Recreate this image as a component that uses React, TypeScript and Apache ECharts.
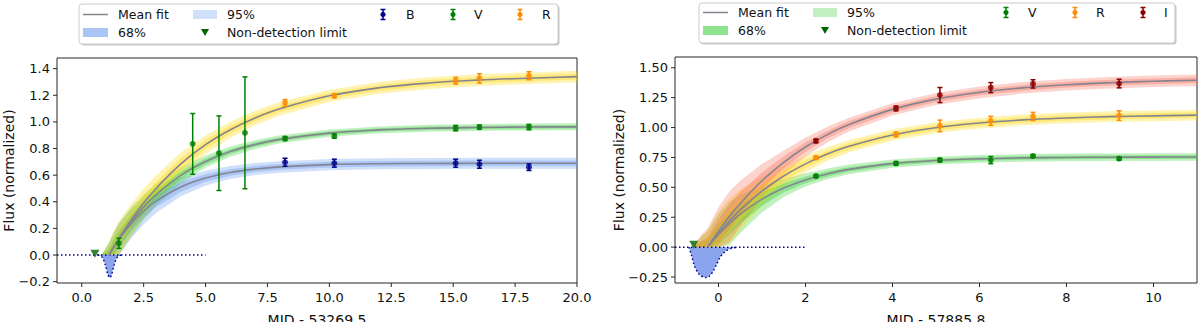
import React, { useEffect, useRef } from "react";
import * as echarts from "echarts";

// ---------------- Left panel: MJD - 53269.5 ----------------
const leftXs = [0.8, 0.9, 1.0, 1.1, 1.3, 1.5, 2, 2.5, 3, 4, 5, 6, 7, 8, 10, 12, 14, 16, 18, 20];
const leftBMean = [null, null, null, 0, 0.061, 0.117, 0.236, 0.331, 0.405, 0.511, 0.578, 0.62, 0.646, 0.662, 0.679, 0.686, 0.688, 0.689, 0.69, 0.69];
const leftVMean = [null, null, null, 0, 0.062, 0.121, 0.25, 0.36, 0.453, 0.598, 0.702, 0.777, 0.83, 0.869, 0.916, 0.94, 0.952, 0.958, 0.962, 0.963];
const leftRMean = [null, null, null, 0, 0.064, 0.126, 0.266, 0.39, 0.5, 0.685, 0.829, 0.941, 1.03, 1.099, 1.196, 1.256, 1.292, 1.314, 1.328, 1.34];
const leftBW95 = [0, 0.03, 0.06, 0.09, 0.11, 0.12, 0.11, 0.1, 0.09, 0.07, 0.055, 0.048, 0.045, 0.043, 0.042, 0.041, 0.041, 0.041, 0.041, 0.041];
const leftBW68 = [0, 0.015, 0.03, 0.045, 0.055, 0.06, 0.055, 0.05, 0.045, 0.035, 0.028, 0.024, 0.023, 0.022, 0.021, 0.021, 0.021, 0.021, 0.021, 0.021];
const leftVW95 = [0, 0.03, 0.06, 0.09, 0.11, 0.12, 0.11, 0.095, 0.08, 0.06, 0.045, 0.038, 0.033, 0.03, 0.027, 0.026, 0.026, 0.026, 0.026, 0.026];
const leftVW68 = [0, 0.015, 0.03, 0.045, 0.055, 0.06, 0.055, 0.048, 0.04, 0.03, 0.023, 0.019, 0.017, 0.015, 0.014, 0.013, 0.013, 0.013, 0.013, 0.013];
const leftRW95 = [0, 0.035, 0.07, 0.1, 0.12, 0.13, 0.12, 0.11, 0.1, 0.085, 0.07, 0.06, 0.055, 0.05, 0.046, 0.044, 0.044, 0.044, 0.044, 0.044];
const leftRW68 = [0, 0.018, 0.035, 0.05, 0.06, 0.065, 0.06, 0.055, 0.05, 0.042, 0.035, 0.03, 0.027, 0.025, 0.023, 0.022, 0.022, 0.022, 0.022, 0.022];

// observed points [x, y, err]
const leftBPoints = [[8.21, 0.697, 0.03], [10.2, 0.69, 0.03], [15.1, 0.69, 0.03], [16.06, 0.682, 0.03], [18.06, 0.66, 0.025]];
const leftVPoints = [[1.5, 0.088, 0.038], [4.48, 0.835, 0.228], [5.54, 0.765, 0.28], [6.59, 0.918, 0.42], [8.21, 0.875, 0.015], [10.2, 0.893, 0.015], [15.1, 0.953, 0.02], [16.06, 0.961, 0.015], [18.06, 0.961, 0.02]];
const leftRPoints = [[8.21, 1.143, 0.025], [10.2, 1.196, 0.015], [15.1, 1.309, 0.025], [16.06, 1.327, 0.035], [18.06, 1.347, 0.03]];
const leftLimit = [[0.53, 0.01]];
const leftDistX = [0.65, 0.75, 0.85, 0.95, 1.05, 1.13, 1.2, 1.3, 1.4, 1.5, 1.6];
const leftDistY = [0, -0.004, -0.023, -0.074, -0.144, -0.17, -0.15, -0.081, -0.026, -0.005, 0];
const leftZeroLine = [[-1, 0], [5, 0]];
const leftXTicks = [0, 2.5, 5, 7.5, 10, 12.5, 15, 17.5, 20];
const leftYTicks = [-0.2, 0, 0.2, 0.4, 0.6, 0.8, 1.0, 1.2, 1.4];

// ---------------- Right panel: MJD - 57885.8 ----------------
const rightXs = [-0.6, -0.5, -0.4, -0.25, 0, 0.25, 0.5, 1, 1.5, 2, 2.5, 3, 4, 5, 6, 7, 8, 9, 10, 11];
const rightVMean = [null, null, null, 0, 0.106, 0.197, 0.276, 0.401, 0.494, 0.562, 0.612, 0.65, 0.698, 0.724, 0.738, 0.746, 0.75, 0.752, 0.753, 0.754];
const rightRMean = [null, null, null, 0, 0.115, 0.219, 0.311, 0.469, 0.595, 0.696, 0.778, 0.843, 0.938, 0.999, 1.038, 1.064, 1.08, 1.091, 1.098, 1.104];
const rightIMean = [null, null, null, 0, 0.134, 0.256, 0.365, 0.555, 0.709, 0.837, 0.941, 1.025, 1.152, 1.238, 1.294, 1.332, 1.358, 1.375, 1.387, 1.396];
const rightVW95 = [0, 0.04, 0.085, 0.13, 0.17, 0.18, 0.16, 0.11, 0.075, 0.055, 0.045, 0.04, 0.034, 0.032, 0.032, 0.032, 0.032, 0.032, 0.032, 0.032];
const rightVW68 = [0, 0.02, 0.042, 0.065, 0.085, 0.09, 0.08, 0.055, 0.038, 0.028, 0.023, 0.02, 0.017, 0.016, 0.016, 0.016, 0.016, 0.016, 0.016, 0.016];
const rightRW95 = [0, 0.045, 0.09, 0.14, 0.18, 0.19, 0.17, 0.12, 0.09, 0.07, 0.058, 0.052, 0.047, 0.045, 0.045, 0.045, 0.045, 0.045, 0.045, 0.045];
const rightRW68 = [0, 0.022, 0.045, 0.07, 0.09, 0.095, 0.085, 0.06, 0.045, 0.035, 0.029, 0.026, 0.024, 0.023, 0.023, 0.023, 0.023, 0.023, 0.023, 0.023];
const rightIW95 = [0, 0.05, 0.1, 0.16, 0.2, 0.21, 0.19, 0.14, 0.1, 0.08, 0.066, 0.058, 0.052, 0.05, 0.049, 0.048, 0.048, 0.048, 0.048, 0.048];
const rightIW68 = [0, 0.025, 0.05, 0.08, 0.1, 0.105, 0.095, 0.07, 0.05, 0.04, 0.033, 0.029, 0.026, 0.025, 0.024, 0.024, 0.024, 0.024, 0.024, 0.024];

const rightVPoints = [[2.24, 0.594, 0.012], [4.08, 0.7, 0.015], [5.09, 0.728, 0.015], [6.26, 0.728, 0.03], [7.23, 0.762, 0.012], [9.21, 0.74, 0.012]];
const rightRPoints = [[2.24, 0.748, 0.012], [4.08, 0.942, 0.02], [5.09, 1.014, 0.048], [6.26, 1.056, 0.038], [7.23, 1.093, 0.034], [9.21, 1.1, 0.04]];
const rightIPoints = [[2.24, 0.888, 0.015], [4.08, 1.16, 0.02], [5.09, 1.272, 0.063], [6.26, 1.334, 0.042], [7.23, 1.365, 0.035], [9.21, 1.368, 0.036]];
const rightLimit = [[-0.57, 0.02]];
const rightDistX = [-0.68, -0.62, -0.55, -0.45, -0.35, -0.27, -0.2, -0.13, -0.05, 0.02, 0.1, 0.18, 0.3, 0.45];
const rightDistY = [0, -0.07, -0.16, -0.225, -0.25, -0.255, -0.24, -0.205, -0.15, -0.095, -0.055, -0.03, -0.01, 0];
const rightZeroLine = [[-1, 0], [2, 0]];
const rightXTicks = [0, 2, 4, 6, 8, 10];
const rightYTicks = [-0.25, 0, 0.25, 0.5, 0.75, 1.0, 1.25, 1.5];

// axis ranges
const leftXRange = [-1, 20];
const leftYRange = [-0.21, 1.48];
const rightXRange = [-1, 11];
const rightYRange = [-0.3, 1.59];

// ---------------- styling ----------------
const FONT = "DejaVu Sans";
const TXT = "#111";
const AX = "#262626";
const MEAN_COLOR = "#858592";
const C = {
  B: "#00008b",
  V: "#008000",
  R: "#ff8c00",
  I: "#8b0000",
  limit: "#006400",
  dist: "#8aa5ee",
  distLine: "#00008b",
};
const BAND = {
  B: "100,149,237",
  V: "50,205,50",
  R: "255,215,0",
  I: "250,110,90",
};

function band(xs: number[], mean: (number | null)[], w: number[], rgb: string, alpha: number, axis: number) {
  return {
    type: "custom",
    xAxisIndex: axis,
    yAxisIndex: axis,
    data: [[xs[0], 0]],
    encode: { x: 0, y: 1 },
    silent: true,
    z: 1,
    renderItem: (params: any, api: any) => {
      if (params.dataIndex !== 0) return null;
      const up: number[][] = [];
      const lo: number[][] = [];
      xs.forEach((x, i) => {
        const m = mean[i] == null ? 0 : (mean[i] as number);
        up.push(api.coord([x, m + w[i]]));
        lo.push(api.coord([x, Math.max(0, m - w[i])]));
      });
      const points = up.concat(lo.reverse());
      return {
        type: "polygon",
        shape: { points },
        style: { fill: `rgba(${rgb},${alpha})`, stroke: null },
      };
    },
  };
}

function meanLine(xs: number[], mean: (number | null)[], axis: number) {
  const data: number[][] = [];
  xs.forEach((x, i) => {
    if (mean[i] != null) data.push([x, mean[i] as number]);
  });
  return {
    type: "line",
    xAxisIndex: axis,
    yAxisIndex: axis,
    data,
    smooth: 0.4,
    showSymbol: false,
    silent: true,
    z: 3,
    lineStyle: { color: MEAN_COLOR, width: 1.6 },
  };
}

function errorBars(points: number[][], color: string, axis: number) {
  return {
    type: "custom",
    xAxisIndex: axis,
    yAxisIndex: axis,
    data: points,
    dimensions: ["x", "y", "e"],
    encode: { x: 0, y: 1 },
    silent: true,
    z: 4,
    renderItem: (params: any, api: any) => {
      const x = api.value(0);
      const y = api.value(1);
      const e = api.value(2);
      const t = api.coord([x, y + e]);
      const b = api.coord([x, y - e]);
      const cw = 2.5;
      const st = { stroke: color, lineWidth: 1.5 };
      return {
        type: "group",
        children: [
          { type: "line", shape: { x1: t[0], y1: t[1], x2: b[0], y2: b[1] }, style: st },
          { type: "line", shape: { x1: t[0] - cw, y1: t[1], x2: t[0] + cw, y2: t[1] }, style: st },
          { type: "line", shape: { x1: b[0] - cw, y1: b[1], x2: b[0] + cw, y2: b[1] }, style: st },
        ],
      };
    },
  };
}

// tick marks drawn through the axis scales (outside the plot frame)
function tickMarks(vals: number[], dir: "x" | "y", edge: number, axis: number) {
  return {
    type: "custom",
    xAxisIndex: axis,
    yAxisIndex: axis,
    data: vals.map((v) => (dir === "x" ? [v, edge] : [edge, v])),
    encode: { x: 0, y: 1 },
    silent: true,
    clip: false,
    z: 6,
    renderItem: (params: any, api: any) => {
      const p = api.coord([api.value(0), api.value(1)]);
      const shape =
        dir === "x"
          ? { x1: p[0], y1: p[1], x2: p[0], y2: p[1] + 4 }
          : { x1: p[0] - 4, y1: p[1], x2: p[0], y2: p[1] };
      return { type: "line", shape, style: { stroke: AX, lineWidth: 1 } };
    },
  };
}

function dots(points: number[][], color: string, axis: number) {
  return {
    type: "scatter",
    xAxisIndex: axis,
    yAxisIndex: axis,
    data: points.map((p) => [p[0], p[1]]),
    symbol: "circle",
    symbolSize: 6,
    silent: true,
    z: 5,
    itemStyle: { color },
  };
}

function limitMarker(points: number[][], axis: number) {
  return {
    type: "scatter",
    xAxisIndex: axis,
    yAxisIndex: axis,
    data: points,
    symbol: "triangle",
    symbolRotate: 180,
    symbolSize: [9, 8],
    silent: true,
    z: 5,
    itemStyle: { color: C.limit },
  };
}

function dist(xs: number[], ys: number[], axis: number) {
  return {
    type: "line",
    xAxisIndex: axis,
    yAxisIndex: axis,
    data: xs.map((x, i) => [x, ys[i]]),
    smooth: 0.3,
    showSymbol: false,
    silent: true,
    z: 2,
    lineStyle: { color: C.distLine, width: 1.5, type: [1.5, 2.5] },
    areaStyle: { color: C.dist, opacity: 1, origin: "auto" },
  };
}

function zeroLine(data: number[][], axis: number) {
  return {
    type: "line",
    xAxisIndex: axis,
    yAxisIndex: axis,
    data,
    showSymbol: false,
    silent: true,
    z: 2,
    lineStyle: { color: C.distLine, width: 1.5, type: [1.5, 2.5] },
  };
}

function fmt(d: number) {
  return (v: number) => v.toFixed(d).replace("-", "\u2212");
}

function xAxis(grid: number, range: number[], ticks: number[], dec: number, name: string) {
  return {
    type: "value",
    gridIndex: grid,
    min: range[0],
    max: range[1],
    name,
    nameLocation: "middle",
    nameGap: 29,
    nameMoveOverlap: false,
    nameTextStyle: { fontSize: 14, color: TXT, fontFamily: FONT, lineHeight: 15 },
    axisLine: { show: false },
    axisTick: { show: false },
    axisLabel: { customValues: ticks, formatter: fmt(dec), fontSize: 13, color: TXT, fontFamily: FONT, margin: 8 },
    splitLine: { show: false },
  };
}

function yAxis(grid: number, range: number[], ticks: number[], dec: number, gap: number) {
  return {
    type: "value",
    gridIndex: grid,
    min: range[0],
    max: range[1],
    name: "Flux (normalized)",
    nameLocation: "middle",
    nameGap: gap,
    nameMoveOverlap: false,
    nameTextStyle: { fontSize: 14, color: TXT, fontFamily: FONT },
    axisLine: { show: false },
    axisTick: { show: false },
    axisLabel: { customValues: ticks, formatter: fmt(dec), fontSize: 13, color: TXT, fontFamily: FONT, margin: 7 },
    splitLine: { show: false },
  };
}

// ---------------- legend graphics ----------------
function ebIcon(x: number, y: number, color: string) {
  const st = { stroke: color, lineWidth: 1.5 };
  return [
    { type: "line", shape: { x1: x, y1: y - 5, x2: x, y2: y + 5 }, style: st },
    { type: "line", shape: { x1: x - 2.5, y1: y - 5, x2: x + 2.5, y2: y - 5 }, style: st },
    { type: "line", shape: { x1: x - 2.5, y1: y + 5, x2: x + 2.5, y2: y + 5 }, style: st },
    { type: "circle", shape: { cx: x, cy: y, r: 2.6 }, style: { fill: color } },
  ];
}

function txt(x: number, y: number, text: string) {
  return {
    type: "text",
    x,
    y,
    style: { text, fontSize: 12.5, fontFamily: FONT, fill: TXT, align: "left", verticalAlign: "middle" },
  };
}

function legend(
  bx: number,
  by: number,
  bw: number,
  rgb: string,
  filters: { name: string; color: string; ix: number; tx: number }[],
  r1: number,
  r2: number
) {
  const ox = bx - 79;
  const els: any[] = [
    { type: "rect", shape: { x: bx + 1.5, y: by + 1.5, width: bw, height: 40, r: 3 }, style: { fill: "rgba(0,0,0,0.22)" } },
    { type: "rect", shape: { x: bx, y: by, width: bw, height: 40, r: 3 }, style: { fill: "#fff", stroke: "#cccccc", lineWidth: 1 } },
    { type: "line", shape: { x1: 83 + ox, y1: r1, x2: 108 + ox, y2: r1 }, style: { stroke: MEAN_COLOR, lineWidth: 1.5 } },
    txt(118 + ox, r1, "Mean fit"),
    { type: "rect", shape: { x: 193 + ox, y: r1 - 4.5, width: 24, height: 9 }, style: { fill: `rgba(${rgb},0.3)` } },
    txt(227 + ox, r1, "95%"),
    { type: "rect", shape: { x: 83 + ox, y: r2 - 4.5, width: 25, height: 9 }, style: { fill: `rgba(${rgb},0.55)` } },
    txt(118 + ox, r2, "68%"),
    { type: "polygon", shape: { points: [[201 + ox, r2 - 3.5], [209 + ox, r2 - 3.5], [205 + ox, r2 + 3.5]] }, style: { fill: C.limit } },
    txt(227 + ox, r2, "Non-detection limit"),
  ];
  filters.forEach((f) => {
    els.push(...ebIcon(f.ix, r1, f.color));
    els.push(txt(f.tx, r1, f.name));
  });
  return els;
}

export default function App() {
  const ref = useRef<HTMLDivElement>(null);
  useEffect(() => {
    if (!ref.current) return;
    const chart = echarts.init(ref.current, null, { renderer: "svg" });
    const option: any = {
      animation: false,
      backgroundColor: "#fff",
      grid: [
        { left: 57, right: 623, top: 58, bottom: 39, show: true, borderColor: AX, borderWidth: 1, backgroundColor: "transparent", containLabel: false, outerBoundsMode: "none" },
        { left: 675, right: 3, top: 57, bottom: 39, show: true, borderColor: AX, borderWidth: 1, backgroundColor: "transparent", containLabel: false, outerBoundsMode: "none" },
      ],
      xAxis: [
        xAxis(0, leftXRange, leftXTicks, 1, "MJD - 53269.5"),
        xAxis(1, rightXRange, rightXTicks, 0, "MJD - 57885.8"),
      ],
      yAxis: [yAxis(0, leftYRange, leftYTicks, 1, 41), yAxis(1, rightYRange, rightYTicks, 2, 49)],
      series: [
        // left bands
        band(leftXs, leftBMean, leftBW95, BAND.B, 0.3, 0),
        band(leftXs, leftVMean, leftVW95, BAND.V, 0.3, 0),
        band(leftXs, leftRMean, leftRW95, BAND.R, 0.3, 0),
        band(leftXs, leftBMean, leftBW68, BAND.B, 0.35, 0),
        band(leftXs, leftVMean, leftVW68, BAND.V, 0.35, 0),
        band(leftXs, leftRMean, leftRW68, BAND.R, 0.35, 0),
        dist(leftDistX, leftDistY, 0),
        zeroLine(leftZeroLine, 0),
        meanLine(leftXs, leftBMean, 0),
        meanLine(leftXs, leftVMean, 0),
        meanLine(leftXs, leftRMean, 0),
        errorBars(leftBPoints, C.B, 0),
        errorBars(leftVPoints, C.V, 0),
        errorBars(leftRPoints, C.R, 0),
        dots(leftBPoints, C.B, 0),
        dots(leftVPoints, C.V, 0),
        dots(leftRPoints, C.R, 0),
        limitMarker(leftLimit, 0),
        tickMarks(leftXTicks, "x", leftYRange[0], 0),
        tickMarks(leftYTicks, "y", leftXRange[0], 0),
        // right bands
        band(rightXs, rightVMean, rightVW95, BAND.V, 0.3, 1),
        band(rightXs, rightRMean, rightRW95, BAND.R, 0.3, 1),
        band(rightXs, rightIMean, rightIW95, BAND.I, 0.3, 1),
        band(rightXs, rightVMean, rightVW68, BAND.V, 0.35, 1),
        band(rightXs, rightRMean, rightRW68, BAND.R, 0.35, 1),
        band(rightXs, rightIMean, rightIW68, BAND.I, 0.35, 1),
        dist(rightDistX, rightDistY, 1),
        zeroLine(rightZeroLine, 1),
        meanLine(rightXs, rightVMean, 1),
        meanLine(rightXs, rightRMean, 1),
        meanLine(rightXs, rightIMean, 1),
        errorBars(rightVPoints, C.V, 1),
        errorBars(rightRPoints, C.R, 1),
        errorBars(rightIPoints, C.I, 1),
        dots(rightVPoints, C.V, 1),
        dots(rightRPoints, C.R, 1),
        dots(rightIPoints, C.I, 1),
        limitMarker(rightLimit, 1),
        tickMarks(rightXTicks, "x", rightYRange[0], 1),
        tickMarks(rightYTicks, "y", rightXRange[0], 1),
      ],
      graphic: [
        {
          type: "group",
          silent: true,
          children: legend(
            79,
            4,
            479,
            BAND.B,
            [
              { name: "B", color: C.B, ix: 383, tx: 406 },
              { name: "V", color: C.V, ix: 453, tx: 474 },
              { name: "R", color: C.R, ix: 520, tx: 542 },
            ],
            14.5,
            32.5
          ),
        },
        {
          type: "group",
          silent: true,
          children: legend(
            699,
            3,
            476,
            BAND.V,
            [
              { name: "V", color: C.V, ix: 1006, tx: 1028 },
              { name: "R", color: C.R, ix: 1075, tx: 1096 },
              { name: "I", color: C.I, ix: 1143, tx: 1164 },
            ],
            12.5,
            30.5
          ),
        },
      ],
    };
    chart.setOption(option);
    return () => chart.dispose();
  }, []);
  return (
    <div
      ref={ref}
      style={{ position: "absolute", left: 0, top: 0, width: 1200, height: 322, background: "#fff" }}
    />
  );
}
